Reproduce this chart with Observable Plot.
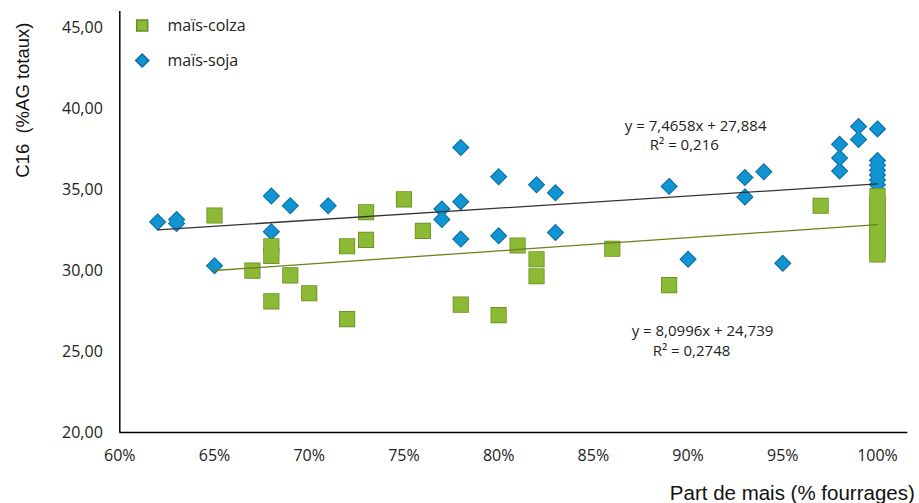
<!DOCTYPE html>
<html><head><meta charset="utf-8">
<script src="https://cdn.jsdelivr.net/npm/d3@7"></script>
<script src="https://cdn.jsdelivr.net/npm/@observablehq/plot@0.6"></script>
<style>body{margin:0;background:#fff} #chart{width:919px;height:503px}</style>
</head><body><div id="chart"></div>
<script>
// --- data ---
const sojaX = [62, 63, 63, 65, 68, 68, 69, 71, 77, 77, 78, 78, 78, 80, 80, 82, 83, 83, 89, 90, 93, 93, 94, 95, 98, 98, 98, 99, 99, 100, 100, 100, 100, 100, 100, 100];
const sojaY = [33.0, 33.15, 32.9, 30.3, 34.6, 32.4, 34.0, 34.0, 33.8, 33.15, 37.6, 34.25, 31.95, 35.8, 32.15, 35.3, 34.8, 32.35, 35.2, 30.7, 35.75, 34.55, 36.1, 30.45, 37.8, 36.95, 36.15, 38.9, 38.1, 38.75, 36.8, 36.5, 36.2, 35.9, 35.6, 35.3];
const colzaX = [65, 67, 68, 68, 68, 69, 70, 72, 72, 73, 73, 75, 76, 78, 80, 81, 82, 82, 86, 89, 97, 100, 100, 100, 100, 100, 100, 100, 100, 100, 100];
const colzaY = [33.4, 30.0, 31.5, 30.9, 28.1, 29.7, 28.6, 31.5, 27.0, 33.6, 31.9, 34.4, 32.45, 27.9, 27.25, 31.55, 30.7, 29.65, 31.35, 29.1, 34.0, 34.6, 34.1, 33.7, 33.2, 32.9, 32.4, 32.0, 31.6, 31.2, 31.0];
const seriesNames = ["maïs-colza", "maïs-soja"];
// trendlines y = a*x + b (x as fraction of forage), drawn over each series' x range
const trendSlope = [8.0996, 7.4658];
const trendIntercept = [24.739, 27.884];
const trendFrom = [65, 62];
const trendTo = [100, 100];
const eqText = ["y = 7,4658x + 27,884", "R² = 0,216", "y = 8,0996x + 24,739", "R² = 0,2748"];
const eqX = [90.4, 89.8, 90.76, 90.18];
const eqY = [38.9, 37.73, 26.24, 25.0];
const xTicks = [60, 65, 70, 75, 80, 85, 90, 95, 100];
const yTicks = [20, 25, 30, 35, 40, 45];

// --- tables ---
const soja = sojaX.map((x, i) => ({x, y: sojaY[i]}));
const colza = colzaX.map((x, i) => ({x, y: colzaY[i]}));
const trend = (k) => [trendFrom[k], trendTo[k]].map(x => ({x, y: trendSlope[k] * x / 100 + trendIntercept[k]}));
const eqs = eqText.map((t, i) => ({t, x: eqX[i], y: eqY[i]}));

const sojaFill = "#1194d3", sojaStroke = "#0b6c9c";
const colzaFill = "#8cba35", colzaStroke = "#6a8d22";
const tickFont = "'Open Sans', sans-serif";
const titleFont = "'Liberation Sans', Arial, sans-serif";

const chart = Plot.plot({
  width: 919, height: 503,
  marginLeft: 119.3, marginRight: 11.7, marginTop: 11, marginBottom: 71,
  x: {domain: [60, 101.6]},
  y: {domain: [20, 46]},
  style: {fontFamily: tickFont, background: "#fff", color: "#222", overflow: "visible"},
  marks: [
    Plot.axisX(xTicks, {tickSize: 0, tickPadding: 17, tickFormat: d => d + "%", fontSize: 16, label: null, fill: "#222"}),
    Plot.axisY(yTicks, {tickSize: 0, tickPadding: 17, tickFormat: d => d.toFixed(2).replace(".", ","), fontSize: 16, label: null, fill: "#222"}),
    // outline layer then fill layer so stacked markers merge
    Plot.dot(soja, {x: "x", y: "y", symbol: "diamond2", r: 6.6, fill: sojaStroke, stroke: sojaStroke, strokeWidth: 2}),
    Plot.dot(soja, {x: "x", y: "y", symbol: "diamond2", r: 6.6, fill: sojaFill}),
    Plot.dot(colza, {x: "x", y: "y", symbol: "square", r: 8.2, fill: colzaStroke, stroke: colzaStroke, strokeWidth: 1.6}),
    Plot.dot(colza, {x: "x", y: "y", symbol: "square", r: 8.2, fill: colzaFill}),
    Plot.line(trend(1), {x: "x", y: "y", stroke: "#333", strokeWidth: 1.3}),
    Plot.line(trend(0), {x: "x", y: "y", stroke: "#6f7f1c", strokeWidth: 1.3}),
    Plot.ruleX([60], {stroke: "#000", strokeWidth: 1.5}),
    Plot.ruleY([20], {stroke: "#000", strokeWidth: 1.5}),
    Plot.text(eqs, {x: "x", y: "y", text: "t", fontSize: 15, fill: "#222"}),
    // legend
    Plot.dot([seriesNames[0]], {frameAnchor: "top-left", dx: 22.4, dy: 14, symbol: "square", r: 6.2, fill: colzaFill, stroke: colzaStroke}),
    Plot.text([seriesNames[0]], {text: d => d, frameAnchor: "top-left", lineAnchor: "middle", dx: 47.7, dy: 14, textAnchor: "start", fontSize: 16, fill: "#222"}),
    Plot.dot([seriesNames[1]], {frameAnchor: "top-left", dx: 22.4, dy: 49, symbol: "diamond2", r: 5.9, fill: sojaFill, stroke: sojaStroke}),
    Plot.text([seriesNames[1]], {text: d => d, frameAnchor: "top-left", lineAnchor: "middle", dx: 47.7, dy: 49, textAnchor: "start", fontSize: 16, fill: "#222"}),
    // axis titles
    Plot.text(["C16\u00a0 (%AG totaux)"], {text: d => d, frameAnchor: "top-left", lineAnchor: "middle", rotate: -90, textAnchor: "end", dx: -97, dy: 11, fontSize: 18.5, fontFamily: titleFont, fill: "#111"}),
    Plot.text(["Part de mais (% fourrages)"], {text: d => d, frameAnchor: "bottom-right", lineAnchor: "middle", textAnchor: "end", dx: 7, dy: 61, fontSize: 20.5, fontFamily: titleFont, fill: "#111"})
  ]
});
document.getElementById("chart").appendChild(chart);
</script>
</body></html>
